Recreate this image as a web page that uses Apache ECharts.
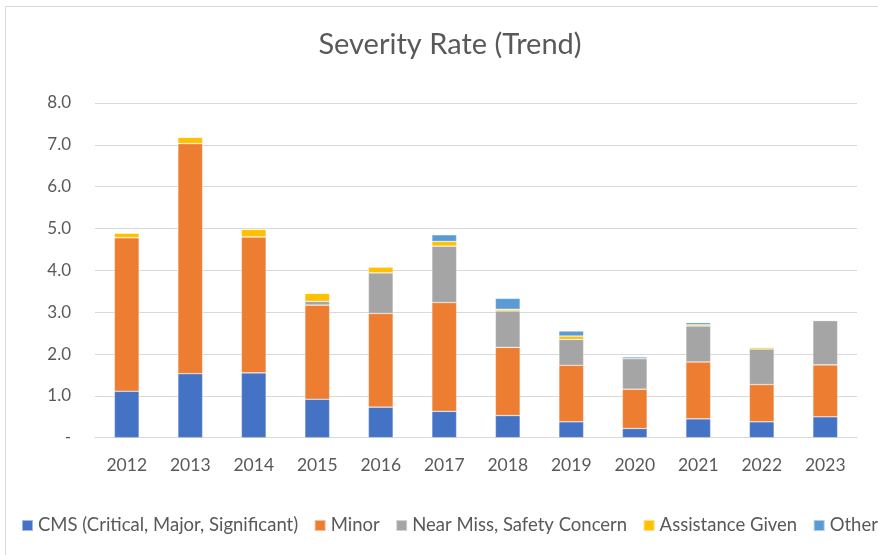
<!DOCTYPE html>
<html>
<head>
<meta charset="utf-8">
<script src="https://cdn.jsdelivr.net/npm/echarts@6/dist/echarts.min.js"></script>
<style>
  html, body { margin: 0; padding: 0; background: #fff; overflow: hidden; }
  #wrap { position: relative; width: 878px; height: 555px; overflow: hidden; }
  #frame { position: absolute; left: 5px; top: 6px; width: 1000px; height: 700px; border: 1px solid #D9D9D9; box-sizing: border-box; }
  #chart { position: absolute; left: 0; top: 0; width: 878px; height: 555px; }
</style>
</head>
<body>
<div id="wrap"><div id="frame"></div><div id="chart"></div></div>
<script>
const years = ['2012','2013','2014','2015','2016','2017','2018','2019','2020','2021','2022','2023'];
const cms = [1.11, 1.53, 1.55, 0.92, 0.73, 0.63, 0.53, 0.38, 0.22, 0.45, 0.38, 0.50];
const minor = [3.67, 5.50, 3.25, 2.25, 2.24, 2.60, 1.63, 1.35, 0.94, 1.36, 0.89, 1.24];
const nearMiss = [0, 0, 0, 0.09, 0.97, 1.35, 0.87, 0.62, 0.73, 0.86, 0.85, 1.06];
const assistance = [0.11, 0.15, 0.18, 0.19, 0.14, 0.11, 0.04, 0.08, 0, 0.03, 0.04, 0];
const other = [0, 0, 0, 0, 0, 0.16, 0.26, 0.12, 0.04, 0.05, 0, 0];
const yTicks = { min: 0, max: 8, interval: 1 };

const seriesDefs = [
  ['CMS (Critical, Major, Significant)', cms, '#4472C4'],
  ['Minor', minor, '#ED7D31'],
  ['Near Miss, Safety Concern', nearMiss, '#A5A5A5'],
  ['Assistance Given', assistance, '#FFC000'],
  ['Other', other, '#5B9BD5']
];

const font = 'Lato, "Open Sans", sans-serif';
const chart = echarts.init(document.getElementById('chart'), null, { renderer: 'canvas' });
chart.setOption({
  animation: false,
  backgroundColor: 'transparent',
  title: {
    text: 'Severity Rate (Trend)',
    left: 445, top: 25, textAlign: 'center',
    textStyle: { fontFamily: font, fontSize: 29, fontWeight: 'normal', color: '#595959' }
  },
  legend: {
    left: 16, top: 511, width: 1200,
    itemWidth: 11, itemHeight: 11, itemGap: 15.5,
    icon: 'rect',
    textStyle: { fontFamily: font, fontSize: 18.5, color: '#595959' },
    data: seriesDefs.map(d => d[0])
  },
  grid: { left: 95, right: 21, top: 103, bottom: 117.3, containLabel: false },
  xAxis: {
    type: 'category', data: years,
    axisLine: { lineStyle: { color: '#D9D9D9', width: 1 } },
    axisTick: { show: false },
    axisLabel: { fontFamily: font, fontSize: 17.5, color: '#595959', margin: 19 }
  },
  yAxis: {
    type: 'value', min: yTicks.min, max: yTicks.max, interval: yTicks.interval,
    axisLine: { show: false }, axisTick: { show: false },
    splitLine: { lineStyle: { color: '#D9D9D9', width: 1 } },
    axisLabel: {
      fontFamily: font, fontSize: 17, color: '#595959', margin: 24,
      formatter: v => v === 0 ? '-' : v.toFixed(1)
    }
  },
  series: seriesDefs.map(([name, data, color]) => ({
    name, type: 'bar', stack: 'total', data,
    barWidth: '39%',
    itemStyle: { color, borderColor: 'rgba(255,255,255,0.5)', borderWidth: 0.6 }
  }))
});
</script>
</body>
</html>
